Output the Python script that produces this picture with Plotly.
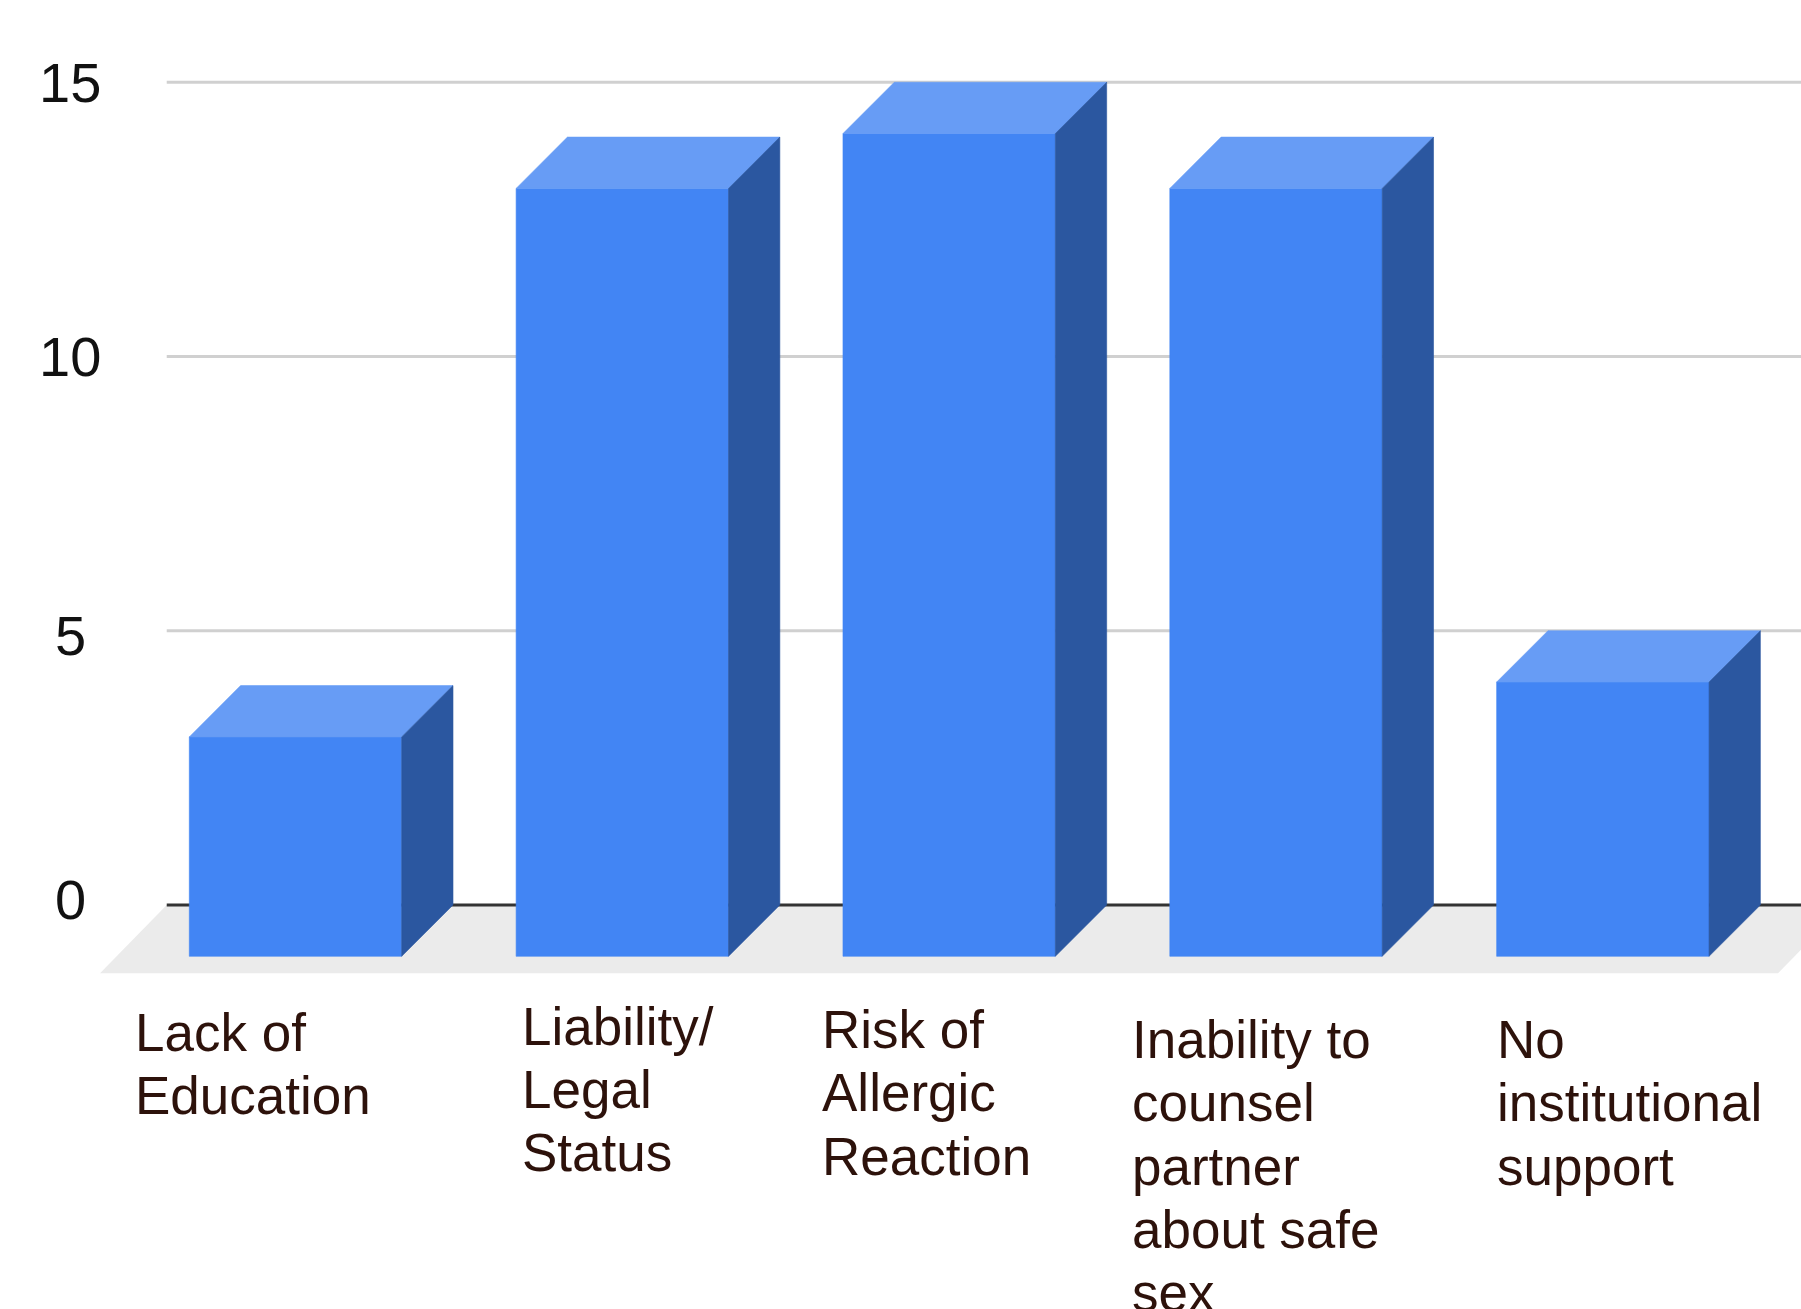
import plotly.graph_objects as go

# ---------------- data ----------------
categories = [
    "Lack of Education",
    "Liability/Legal Status",
    "Risk of Allergic Reaction",
    "Inability to counsel partner about safe sex",
    "No institutional support",
]
values = [4, 14, 15, 14, 5]
category_label_lines = [
    ["Lack of", "Education"],
    ["Liability/", "Legal", "Status"],
    ["Risk of", "Allergic", "Reaction"],
    ["Inability to", "counsel", "partner", "about safe", "sex"],
    ["No", "institutional", "support"],
]
y_ticks = [0, 5, 10, 15]
y_tick_labels = ["0", "5", "10", "15"]

# ---------------- layout / style constants ----------------
W, H = 1801, 1309
PX_X = 326.84      # pixels per category step
X0_PX = 295.5      # pixel of first category centre (front face)
PX_Y = 54.85       # pixels per value unit
Y0_PX = 905.0      # pixel of value 0 on the back plane
x_range = [-X0_PX / PX_X, (W - X0_PX) / PX_X]
y_range = [-(H - Y0_PX) / PX_Y, Y0_PX / PX_Y]

HALF_W = 106.2 / PX_X
DX = 51.3 / PX_X
DY = 51.3 / PX_Y
FLOOR_DX = 66.7 / PX_X
FLOOR_DY = 68.3 / PX_Y
FLOOR_LEFT = -0.394
FLOOR_RIGHT = 4.74

FRONT = "#4285f4"
TOP = "#679cf5"
SIDE = "#2b57a0"
FLOOR = "#ebebeb"
GRID = "#d0d0d0"
ZERO = "#333333"
FONT = "Liberation Sans, Arial, sans-serif"
TICK_COLOR = "#111111"
LABEL_COLOR = "#2d120b"
TICK_SIZE = 56
LABEL_SIZE = 53
LINE_STEP = 63.3
LABEL_XSHIFT = [-160.9, -100.2, -127.4, -144.5, -105.9]
LABEL_CAP_TOP = [1012.7, 1006.7, 1010.0, 1020.0, 1020.0]
TICK_X_PX = 70
TICK_YSHIFT = [5.5, -5.0, 0.0, -0.5]

fig = go.Figure()

# floor
fig.add_trace(go.Scatter(
    x=[FLOOR_LEFT, FLOOR_RIGHT, FLOOR_RIGHT - FLOOR_DX, FLOOR_LEFT - FLOOR_DX, FLOOR_LEFT],
    y=[0, 0, -FLOOR_DY, -FLOOR_DY, 0],
    fill="toself", fillcolor=FLOOR, mode="lines", line=dict(width=0),
    hoverinfo="skip", showlegend=False))

# gridlines on the back plane
for t in y_ticks:
    fig.add_trace(go.Scatter(
        x=[FLOOR_LEFT, FLOOR_RIGHT], y=[t, t], mode="lines",
        line=dict(color=ZERO if t == 0 else GRID, width=3),
        hoverinfo="skip", showlegend=False))

# bars
fx, fy, tx, ty, sx, sy = [], [], [], [], [], []
for i, v in enumerate(values):
    l, r = i - HALF_W, i + HALF_W
    fx += [l, r, r, l, l, None]
    fy += [-DY, -DY, v - DY, v - DY, -DY, None]
    tx += [l, r, r + DX, l + DX, l, None]
    ty += [v - DY, v - DY, v, v, v - DY, None]
    sx += [r, r, r + DX, r + DX, r, None]
    sy += [-DY, v - DY, v, 0, -DY, None]

for xs, ys, c in [(fx, fy, FRONT), (tx, ty, TOP), (sx, sy, SIDE)]:
    fig.add_trace(go.Scatter(
        x=xs, y=ys, fill="toself", fillcolor=c, mode="lines",
        line=dict(width=0.6, color=c), hoverinfo="skip", showlegend=False))

annotations = []
# y tick labels
for t, lab, ys in zip(y_ticks, y_tick_labels, TICK_YSHIFT):
    annotations.append(dict(
        xref="paper", x=0, xshift=TICK_X_PX, xanchor="center",
        yref="y", y=t, yshift=ys, yanchor="middle",
        text=lab, showarrow=False, borderpad=0, borderwidth=0,
        font=dict(family=FONT, size=TICK_SIZE, color=TICK_COLOR)))

# category labels (left aligned, one annotation per line)
for i, lines in enumerate(category_label_lines):
    for k, line in enumerate(lines):
        box_top = LABEL_CAP_TOP[i] - 0.189 * LABEL_SIZE + k * LINE_STEP
        annotations.append(dict(
            xref="x", x=i, xshift=LABEL_XSHIFT[i], xanchor="left",
            yref="y", y=0, yshift=Y0_PX - box_top, yanchor="top",
            text=line, showarrow=False, borderpad=0, borderwidth=0, align="left",
            font=dict(family=FONT, size=LABEL_SIZE, color=LABEL_COLOR)))

fig.update_layout(
    width=W, height=H,
    margin=dict(l=0, r=0, t=0, b=0, pad=0),
    paper_bgcolor="white", plot_bgcolor="white",
    xaxis=dict(range=x_range, visible=False, fixedrange=True),
    yaxis=dict(range=y_range, visible=False, fixedrange=True),
    annotations=annotations,
    showlegend=False,
)

fig.write_html("out.html")
